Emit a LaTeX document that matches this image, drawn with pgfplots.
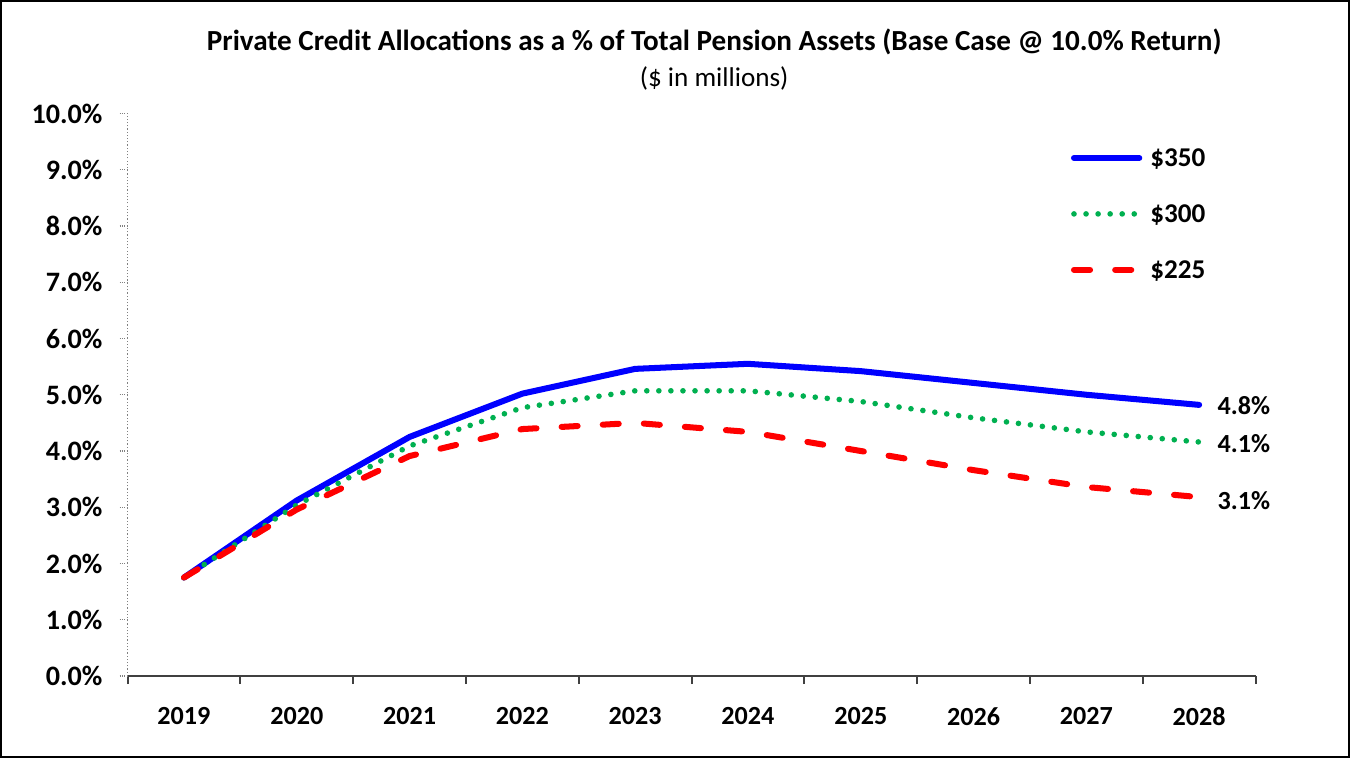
\documentclass[border=0pt]{standalone}
\usepackage{pgfplots}
\pgfplotsset{compat=1.18}
\usepackage{fontspec}
\setmainfont{Carlito}
\definecolor{cblue}{RGB}{0,0,255}
\definecolor{cgreen}{RGB}{0,176,80}
\definecolor{cred}{RGB}{255,0,0}
\begin{document}
\begin{tikzpicture}
\begin{axis}[
  scale only axis, width=561.5pt, height=280pt,
  at={(0,0)}, anchor=south west,
  xmin=-0.5, xmax=9.5, ymin=0, ymax=10,
  axis x line*=bottom, axis y line*=left,
  x axis line style={-, draw=black!75, line width=1pt},
  y axis line style={-, draw=black!50, densely dotted, line width=0.6pt},
  xtick={0,...,9},
  xticklabels={2019,2020,2021,2022,2023,2024,2025,2026,2027,2028},
  major x tick style={draw=none},
  minor xtick={-0.5,0.5,...,9.5},
  minor x tick style={draw=black!75, line width=1pt},
  minor tick length=4pt,
  major tick length=4pt,
  ytick={0,...,10},
  yticklabels={0.0\%,1.0\%,2.0\%,3.0\%,4.0\%,5.0\%,6.0\%,7.0\%,8.0\%,9.0\%,10.0\%},
  y tick style={draw=black!50, densely dotted, line width=0.6pt},
  tick align=outside,
  xticklabel style={font=\fontsize{13pt}{15pt}\selectfont\bfseries, yshift=-8pt},
  yticklabel style={font=\fontsize{14pt}{16pt}\selectfont\bfseries, xshift=-5pt},
  clip=false,
  legend cell align=left,
  legend style={at={(0.836,0.9375)}, anchor=north west, draw=none, fill=none,
    inner sep=0pt, row sep=19pt,
    font=\fontsize{13.5pt}{15pt}\selectfont\bfseries,
    nodes={inner sep=0pt, text depth=0pt}},
  legend image code/.code={\draw[#1] (1.5pt,0pt) -- (34pt,0pt);},
]
\addplot[cblue, line width=3pt, line cap=round, line join=round] coordinates {
 (0,1.75) (1,3.12) (2,4.25) (3,5.02) (4,5.46) (5,5.55) (6,5.42) (7,5.21) (8,5.0) (9,4.82)};
\addlegendentry{\hspace{4pt}\$350}
\addplot[cgreen, line width=2.8pt, line cap=round, dash pattern=on 0pt off 6pt] coordinates {
 (0,1.75) (1,3.04) (2,4.09) (3,4.77) (4,5.07) (5,5.07) (6,4.88) (7,4.59) (8,4.34) (9,4.16)};
\addlegendentry{\hspace{4pt}\$300}
\addplot[cred, line width=3pt, line cap=round, dash pattern=on 8pt off 12.5pt] coordinates {
 (0,1.75) (1,2.96) (2,3.91) (3,4.39) (4,4.50) (5,4.34) (6,4.00) (7,3.66) (8,3.36) (9,3.18)};
\addlegendentry{\hspace{4pt}\$225}
\node[anchor=west, inner sep=0pt, xshift=9pt, font=\fontsize{13pt}{15pt}\selectfont\bfseries] at (axis cs:9,4.80) {4.8\%};
\node[anchor=west, inner sep=0pt, xshift=9pt, font=\fontsize{13pt}{15pt}\selectfont\bfseries] at (axis cs:9,4.14) {4.1\%};
\node[anchor=west, inner sep=0pt, xshift=9pt, font=\fontsize{13pt}{15pt}\selectfont\bfseries] at (axis cs:9,3.12) {3.1\%};
\end{axis}
\draw[line width=1pt, black] (-63pt,-40.5pt) rectangle (608pt,336pt);
\node[font=\fontsize{14.5pt}{16pt}\selectfont\bfseries] at (292pt,315.5pt) {Private Credit Allocations as a \% of Total Pension Assets (Base Case @ 10.0\% Return)};
\node[font=\fontsize{13.5pt}{15pt}\selectfont] at (292pt,297.5pt) {(\$ in millions)};
\end{tikzpicture}
\end{document}
